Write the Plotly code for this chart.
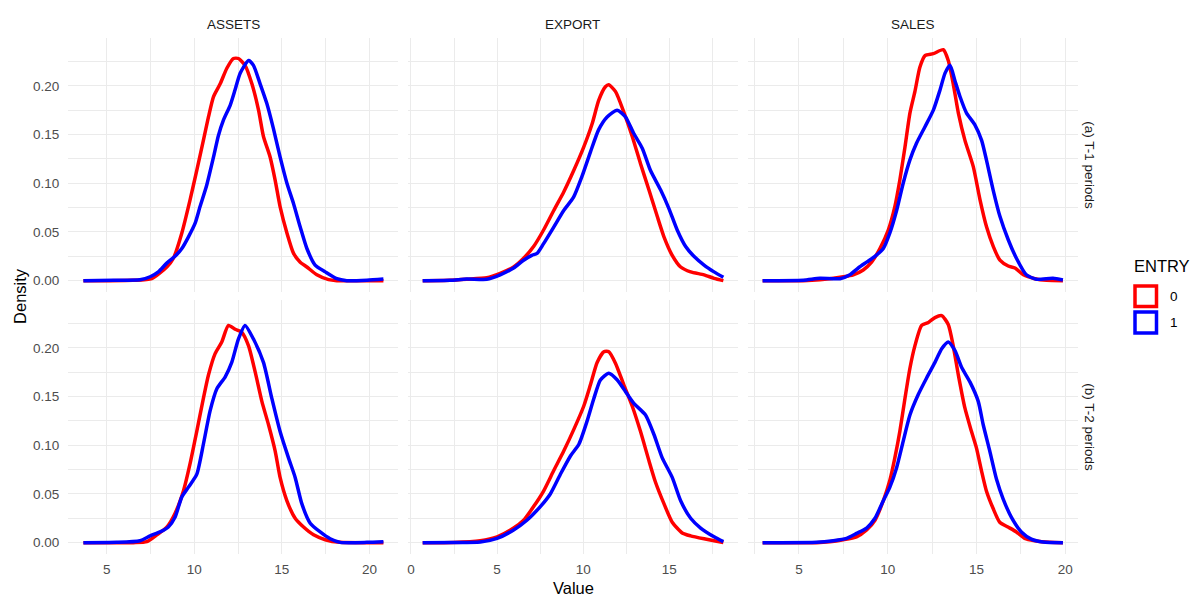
import plotly.graph_objects as go

# ---------------- data ----------------
VARIABLES = ["ASSETS", "EXPORT", "SALES"]
PERIODS = ["(a) T-1 periods", "(b) T-2 periods"]
ENTRY_LEVELS = ["0", "1"]
X_TICKS = {"ASSETS": [5, 10, 15, 20], "EXPORT": [0, 5, 10, 15], "SALES": [5, 10, 15, 20]}
Y_TICKS = [0.00, 0.05, 0.10, 0.15, 0.20]
Y_TICK_LABELS = ["0.00", "0.05", "0.10", "0.15", "0.20"]

ASSETS_T1_X0 = [3.67, 5.0, 6.5, 7.57, 8.43, 8.81, 9.29, 9.76, 10.14, 10.52, 10.81, 11.1, 11.48, 11.86, 12.24, 12.52, 12.9, 13.29, 13.67, 13.95, 14.33, 14.62, 14.9, 15.29, 15.67, 16.05, 16.43, 17.0, 17.67, 18.14, 19.5, 20.8]
ASSETS_T1_Y0 = [0, 0, 0.0003, 0.002, 0.014, 0.023, 0.049, 0.083, 0.113, 0.144, 0.168, 0.189, 0.202, 0.218, 0.228, 0.228, 0.221, 0.202, 0.175, 0.148, 0.127, 0.103, 0.076, 0.049, 0.028, 0.019, 0.014, 0.006, 0.001, 0.0, 0.0, 0.0]
ASSETS_T1_X1 = [3.67, 5.38, 6.9, 7.48, 7.95, 8.43, 8.9, 9.29, 9.67, 10.05, 10.33, 10.71, 11.1, 11.38, 11.67, 12.05, 12.33, 12.62, 13.1, 13.38, 13.76, 14.14, 14.52, 14.9, 15.29, 15.67, 16.05, 16.43, 16.9, 17.48, 18.14, 18.71, 19.86, 20.8]
ASSETS_T1_Y1 = [0, 0.0005, 0.001, 0.004, 0.009, 0.018, 0.025, 0.033, 0.045, 0.059, 0.076, 0.098, 0.127, 0.149, 0.165, 0.180, 0.196, 0.213, 0.226, 0.221, 0.202, 0.182, 0.156, 0.127, 0.100, 0.079, 0.055, 0.033, 0.016, 0.009, 0.002, 0.0, 0.0005, 0.0017]

EXPORT_T1_X0 = [0.68, 2.27, 3.24, 4.4, 5.18, 5.96, 6.54, 7.12, 7.7, 8.29, 8.87, 9.45, 10.03, 10.52, 10.9, 11.29, 11.49, 11.88, 12.36, 12.85, 13.33, 13.82, 14.3, 14.69, 15.17, 15.66, 16.24, 17.02, 17.6, 18.14]
EXPORT_T1_Y0 = [0, 0.0005, 0.0015, 0.003, 0.0075, 0.014, 0.023, 0.035, 0.052, 0.072, 0.091, 0.113, 0.137, 0.161, 0.185, 0.199, 0.201, 0.194, 0.173, 0.148, 0.120, 0.093, 0.066, 0.045, 0.026, 0.014, 0.009, 0.006, 0.0024, 0.0]
EXPORT_T1_X1 = [0.68, 2.27, 3.24, 4.4, 5.18, 5.96, 6.54, 7.02, 7.32, 7.7, 8.29, 8.87, 9.45, 9.93, 10.42, 10.9, 11.39, 11.97, 12.46, 12.94, 13.43, 13.91, 14.5, 14.98, 15.46, 15.95, 16.43, 17.02, 17.6, 18.14]
EXPORT_T1_Y1 = [0, 0.0003, 0.0017, 0.0014, 0.006, 0.013, 0.021, 0.026, 0.028, 0.038, 0.055, 0.072, 0.086, 0.107, 0.132, 0.155, 0.168, 0.175, 0.168, 0.151, 0.136, 0.113, 0.093, 0.074, 0.052, 0.035, 0.025, 0.016, 0.009, 0.0034]

SALES_T1_X0 = [2.95, 5.24, 6.18, 7.5, 8.06, 8.62, 9.09, 9.56, 10.03, 10.4, 10.68, 10.97, 11.25, 11.53, 11.81, 12.1, 12.57, 13.13, 13.41, 13.69, 13.98, 14.35, 14.82, 15.2, 15.57, 15.95, 16.32, 16.79, 17.17, 17.64, 18.29, 18.95, 19.87]
SALES_T1_Y0 = [0, 0, 0.001, 0.004, 0.006, 0.011, 0.019, 0.033, 0.052, 0.076, 0.103, 0.137, 0.172, 0.194, 0.219, 0.231, 0.233, 0.237, 0.226, 0.202, 0.172, 0.144, 0.117, 0.083, 0.055, 0.035, 0.021, 0.015, 0.013, 0.006, 0.002, 0.0003, 0.0]
SALES_T1_X1 = [2.95, 5.24, 6.18, 7.31, 7.87, 8.34, 8.81, 9.28, 9.75, 10.12, 10.5, 10.87, 11.25, 11.62, 12.1, 12.57, 12.95, 13.23, 13.51, 13.79, 14.07, 14.44, 14.91, 15.29, 15.56, 15.94, 16.32, 16.79, 17.25, 17.81, 18.38, 19.31, 19.87]
SALES_T1_Y1 = [0, 0.0005, 0.0024, 0.002, 0.006, 0.013, 0.019, 0.025, 0.033, 0.049, 0.072, 0.100, 0.124, 0.141, 0.158, 0.175, 0.196, 0.213, 0.221, 0.205, 0.189, 0.172, 0.160, 0.144, 0.124, 0.093, 0.066, 0.042, 0.023, 0.006, 0.0014, 0.0024, 0.0007]

ASSETS_T2_X0 = [3.67, 6.52, 7.29, 7.86, 8.43, 8.9, 9.38, 9.76, 10.14, 10.52, 10.81, 11.19, 11.57, 11.95, 12.33, 12.71, 13.1, 13.48, 13.86, 14.24, 14.62, 14.9, 15.29, 15.76, 16.24, 16.81, 17.48, 18.33, 20.8]
ASSETS_T2_Y0 = [0, 0, 0.001, 0.008, 0.016, 0.030, 0.053, 0.081, 0.114, 0.148, 0.172, 0.194, 0.206, 0.223, 0.219, 0.216, 0.202, 0.175, 0.145, 0.121, 0.094, 0.067, 0.043, 0.025, 0.016, 0.008, 0.003, 0.0003, 0]
ASSETS_T2_X1 = [3.67, 5.57, 6.9, 7.48, 8.05, 8.52, 8.9, 9.29, 9.67, 10.14, 10.52, 10.9, 11.29, 11.76, 12.14, 12.52, 12.9, 13.38, 13.95, 14.43, 14.9, 15.38, 15.76, 16.14, 16.62, 17.19, 17.76, 18.33, 19.86, 20.8]
ASSETS_T2_Y1 = [0, 0.0003, 0.002, 0.007, 0.011, 0.016, 0.026, 0.047, 0.057, 0.070, 0.101, 0.135, 0.158, 0.170, 0.185, 0.209, 0.223, 0.209, 0.185, 0.148, 0.114, 0.087, 0.067, 0.040, 0.020, 0.011, 0.004, 0.0003, 0.0003, 0.001]

EXPORT_T2_X0 = [0.68, 2.46, 4.02, 5.0, 5.96, 6.54, 7.12, 7.7, 8.29, 8.87, 9.45, 10.03, 10.42, 10.81, 11.2, 11.49, 11.88, 12.36, 12.85, 13.33, 13.82, 14.2, 14.69, 15.17, 15.75, 16.24, 17.02, 17.6, 18.14]
EXPORT_T2_Y0 = [0, 0.0002, 0.002, 0.006, 0.015, 0.023, 0.037, 0.053, 0.074, 0.094, 0.116, 0.140, 0.162, 0.185, 0.196, 0.196, 0.184, 0.162, 0.140, 0.114, 0.084, 0.062, 0.040, 0.021, 0.010, 0.007, 0.004, 0.002, 0.0]
EXPORT_T2_X1 = [0.68, 2.46, 4.02, 5.0, 5.96, 6.73, 7.51, 8.09, 8.67, 9.26, 9.75, 10.23, 10.62, 11.0, 11.49, 11.98, 12.46, 12.94, 13.62, 14.11, 14.59, 15.17, 15.66, 16.24, 16.82, 17.6, 18.14]
EXPORT_T2_Y1 = [0, 0.0002, 0.0007, 0.0044, 0.013, 0.023, 0.037, 0.050, 0.070, 0.089, 0.101, 0.125, 0.148, 0.167, 0.174, 0.167, 0.155, 0.143, 0.131, 0.111, 0.087, 0.067, 0.043, 0.025, 0.015, 0.006, 0.001]

SALES_T2_X0 = [2.95, 5.99, 6.74, 7.49, 8.24, 8.81, 9.28, 9.75, 10.12, 10.4, 10.68, 10.97, 11.25, 11.53, 11.91, 12.29, 12.66, 13.04, 13.41, 13.69, 13.98, 14.35, 14.72, 15.0, 15.28, 15.56, 15.94, 16.31, 16.78, 17.25, 17.72, 18.28, 19.13, 19.87]
SALES_T2_Y0 = [0, 0, 0.001, 0.003, 0.006, 0.013, 0.023, 0.043, 0.064, 0.087, 0.114, 0.148, 0.179, 0.202, 0.223, 0.226, 0.231, 0.233, 0.224, 0.202, 0.172, 0.138, 0.114, 0.097, 0.074, 0.053, 0.035, 0.021, 0.016, 0.011, 0.0044, 0.002, 0.0003, 0]
SALES_T2_X1 = [2.95, 5.99, 6.93, 7.68, 8.24, 8.81, 9.28, 9.75, 10.12, 10.5, 10.87, 11.25, 11.72, 12.19, 12.66, 13.04, 13.41, 13.79, 14.16, 14.63, 15.1, 15.38, 15.75, 16.13, 16.5, 16.97, 17.53, 18.09, 18.75, 19.87]
SALES_T2_Y1 = [0, 0.0003, 0.002, 0.0044, 0.0095, 0.015, 0.025, 0.043, 0.057, 0.077, 0.104, 0.131, 0.152, 0.169, 0.185, 0.199, 0.206, 0.197, 0.180, 0.165, 0.145, 0.121, 0.094, 0.065, 0.045, 0.026, 0.011, 0.0037, 0.0007, 0]

# ---------------- assembly ----------------
PANELS = [
    [(ASSETS_T1_X0, ASSETS_T1_Y0, ASSETS_T1_X1, ASSETS_T1_Y1),
     (EXPORT_T1_X0, EXPORT_T1_Y0, EXPORT_T1_X1, EXPORT_T1_Y1),
     (SALES_T1_X0, SALES_T1_Y0, SALES_T1_X1, SALES_T1_Y1)],
    [(ASSETS_T2_X0, ASSETS_T2_Y0, ASSETS_T2_X1, ASSETS_T2_Y1),
     (EXPORT_T2_X0, EXPORT_T2_Y0, EXPORT_T2_X1, EXPORT_T2_Y1),
     (SALES_T2_X0, SALES_T2_Y0, SALES_T2_X1, SALES_T2_Y1)],
]

W, H = 1191, 596
COLORS = {"0": "#FF0000", "1": "#0000FF"}
X_RANGES = {"ASSETS": [2.79, 21.65], "EXPORT": [-0.19, 18.99], "SALES": [2.11, 20.72]}
Y_RANGE = [-0.01185, 0.24885]
COL_PX = [(68.0, 398.3), (407.7, 738.0), (747.7, 1078.0)]
ROW_PX = [(38.2, 292.2), (300.2, 554.2)]

GRID = "#EBEBEB"
TICK_FONT = dict(family="Liberation Sans, Arial, sans-serif", size=13.5, color="#4D4D4D")
STRIP_FONT = dict(family="Liberation Sans, Arial, sans-serif", size=13.5, color="#1A1A1A")
TITLE_FONT = dict(family="Liberation Sans, Arial, sans-serif", size=16.5, color="#000000")

fig = go.Figure()
layout = dict(
    width=W, height=H, autosize=False,
    margin=dict(l=0, r=0, t=0, b=0),
    paper_bgcolor="white", plot_bgcolor="white",
    showlegend=False,
)

for r in range(2):
    for c in range(3):
        k = r * 3 + c + 1
        xs = "" if k == 1 else str(k)
        var = VARIABLES[c]
        x0, y0, x1, y1 = PANELS[r][c]
        for xv, yv, lvl in ((x0, y0, "0"), (x1, y1, "1")):
            fig.add_trace(go.Scatter(
                x=xv, y=yv, mode="lines", name=lvl,
                line=dict(color=COLORS[lvl], width=3.5, shape="spline", smoothing=0.6),
                xaxis="x" + xs, yaxis="y" + xs, hoverinfo="skip",
            ))
        layout["xaxis" + xs] = dict(
            domain=[COL_PX[c][0] / W, COL_PX[c][1] / W],
            range=X_RANGES[var], anchor="y" + xs,
            tickmode="array", tickvals=X_TICKS[var],
            ticktext=[str(t) for t in X_TICKS[var]],
            showticklabels=(r == 1), ticks="outside" if r == 1 else "",
            ticklen=3, tickcolor="rgba(0,0,0,0)",
            tickfont=TICK_FONT,
            showgrid=True, gridcolor=GRID, gridwidth=1.4,
            minor=dict(showgrid=True, gridcolor=GRID, gridwidth=0.7, tick0=0, dtick=2.5),
            zeroline=False, showline=False, fixedrange=True,
        )
        layout["yaxis" + xs] = dict(
            domain=[1 - ROW_PX[r][1] / H, 1 - ROW_PX[r][0] / H],
            range=Y_RANGE, anchor="x" + xs,
            tickmode="array", tickvals=Y_TICKS, ticktext=Y_TICK_LABELS,
            showticklabels=(c == 0), ticks="outside" if c == 0 else "",
            ticklen=5, tickcolor="rgba(0,0,0,0)",
            tickfont=TICK_FONT,
            showgrid=True, gridcolor=GRID, gridwidth=1.4,
            minor=dict(showgrid=True, gridcolor=GRID, gridwidth=0.7, tick0=0, dtick=0.025),
            zeroline=False, showline=False, fixedrange=True,
        )

annotations = []
# column strips
for c, var in enumerate(VARIABLES):
    annotations.append(dict(
        text=var, x=(COL_PX[c][0] + COL_PX[c][1]) / 2 / W, y=1 - 25 / H,
        xref="paper", yref="paper", showarrow=False, font=STRIP_FONT,
        xanchor="center", yanchor="middle",
    ))
# row strips
for r, per in enumerate(PERIODS):
    annotations.append(dict(
        text=per, x=1090 / W, y=1 - (ROW_PX[r][0] + ROW_PX[r][1]) / 2 / H,
        xref="paper", yref="paper", showarrow=False, font=STRIP_FONT,
        textangle=90, xanchor="center", yanchor="middle",
    ))
# axis titles
annotations.append(dict(text="Value", x=573 / W, y=1 - 588 / H, xref="paper", yref="paper",
                        showarrow=False, font=TITLE_FONT, xanchor="center", yanchor="middle"))
annotations.append(dict(text="Density", x=20.7 / W, y=1 - 296.2 / H, xref="paper", yref="paper",
                        showarrow=False, font=TITLE_FONT, textangle=-90,
                        xanchor="center", yanchor="middle"))
# legend
annotations.append(dict(text="ENTRY", x=1132 / W, y=1 - 266 / H, xref="paper", yref="paper",
                        showarrow=False, font=TITLE_FONT, xanchor="left", yanchor="middle"))
LEG_KEYS = [(286.0, 306.5), (312.0, 333.0)]
shapes = []
for (ky0, ky1), lvl in zip(LEG_KEYS, ENTRY_LEVELS):
    shapes.append(dict(type="rect", xref="paper", yref="paper",
                       x0=1135 / W, x1=1156.5 / W, y0=1 - ky1 / H, y1=1 - ky0 / H,
                       line=dict(color=COLORS[lvl], width=3.5), fillcolor="rgba(0,0,0,0)"))
    annotations.append(dict(text=lvl, x=1167.5 / W, y=1 - (ky0 + ky1) / 2 / H,
                            xref="paper", yref="paper", showarrow=False,
                            font=dict(family="Liberation Sans, Arial, sans-serif", size=13.5, color="#000000"),
                            xanchor="left", yanchor="middle"))

layout["annotations"] = annotations
layout["shapes"] = shapes
fig.update_layout(**layout)
fig.write_html("out.html",
               config={"displayModeBar": False, "staticPlot": False},
               post_script="document.body.style.margin='0';document.body.style.padding='0';document.body.style.overflow='hidden';")
